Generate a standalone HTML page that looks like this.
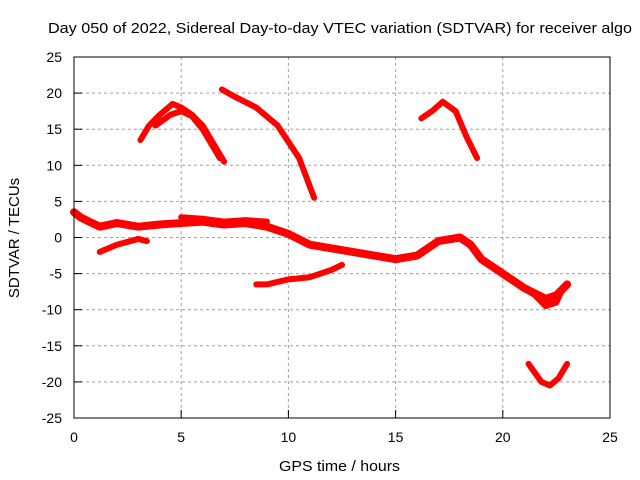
<!DOCTYPE html>
<html><head><meta charset="utf-8"><style>
body{margin:0;background:#fff;}
svg{display:block;font-family:"Liberation Sans",sans-serif;}
</style></head><body>
<svg id="chart" width="640" height="480">
<rect width="640" height="480" fill="#fff"/>
<text x="48" y="33" font-size="15" textLength="584" lengthAdjust="spacingAndGlyphs">Day 050 of 2022, Sidereal Day-to-day VTEC variation (SDTVAR) for receiver algo</text>
<text x="279" y="471" font-size="15" textLength="121" lengthAdjust="spacingAndGlyphs">GPS time / hours</text>
<text transform="translate(19,238) rotate(-90)" font-size="15" text-anchor="middle">SDTVAR / TECUs</text>
<g id="grid"></g>
<g id="series"></g>
<rect x="74" y="57" width="536" height="361" fill="none" stroke="#000" stroke-width="1"/>
<g id="ticks"></g>
</svg>
<script>
const xTicks=[0,5,10,15,20,25];
const yTicks=[25,20,15,10,5,0,-5,-10,-15,-20,-25];
const trackMain=[[0,3.5],[0.3,2.8],[0.7,2.2],[1.2,1.5],[2,2],[3,1.5],[4,1.8],[5,2],[6,2.2],[7,1.8],[8,2],[9,1.5],[10,0.5],[11,-1],[12,-1.5],[13,-2],[14,-2.5],[15,-3],[16,-2.5],[16.5,-1.5],[17,-0.5],[18,0],[18.5,-1],[19,-3],[20,-5],[21,-7],[22,-8.5],[22.5,-8],[23,-6.5]];
const trackUpper=[[5,2.8],[6,2.6],[7,2.2],[8,2.4],[9,2.2]];
const trackB=[[1.2,-2],[2,-1],[3,-0.2],[3.4,-0.5]];
const trackC1=[[3.1,13.5],[3.5,15.5],[4,17],[4.6,18.5],[5,18],[5.5,17],[6,15.5],[6.5,13],[7,10.5]];
const trackC2=[[3.8,15.5],[4.5,17],[5,17.5],[5.5,16.8],[6,15],[6.5,12.5],[6.8,11]];
const trackD=[[6.9,20.5],[7.5,19.5],[8.5,18],[9.5,15.5],[10.5,11],[11.2,5.5]];
const trackE=[[8.5,-6.5],[9,-6.5],[10,-5.8],[11,-5.5],[12,-4.5],[12.5,-3.8]];
const trackF=[[16.2,16.5],[16.7,17.5],[17.2,18.8],[17.8,17.5],[18.3,14],[18.8,11]];
const trackG=[[21.2,-17.5],[21.8,-20],[22.2,-20.5],[22.6,-19.5],[23,-17.5]];
const trackH=[[19.5,-4],[20.5,-6],[21,-7],[21.5,-8],[22,-9.5],[22.5,-9],[22.8,-7]];
const tracks=[trackMain,trackUpper,trackB,trackC1,trackC2,trackD,trackE,trackF,trackG,trackH];
const X=v=>74+(v-0)/25*536;
const Y=v=>418-(v+25)/50*361;
const NS='http://www.w3.org/2000/svg';
const grid=document.getElementById('grid'),ticks=document.getElementById('ticks'),series=document.getElementById('series');
function mk(t,a,p){const e=document.createElementNS(NS,t);for(const k in a)e.setAttribute(k,a[k]);p.appendChild(e);return e;}
xTicks.forEach(v=>{
 if(v>0&&v<25){const g=mk('line',{x1:X(v),x2:X(v),y1:57,y2:418,stroke:'#a0a0a0','stroke-dasharray':'3,3'},grid);
 
 }
 mk('line',{x1:X(v),x2:X(v),y1:418,y2:410,stroke:'#000'},ticks);
 const t=mk('text',{x:X(v),y:442,'font-size':14,'text-anchor':'middle'},ticks);t.textContent=v;
 
 
});
yTicks.forEach(v=>{
 if(v>-25&&v<25){const g=mk('line',{x1:74,x2:610,y1:Y(v),y2:Y(v),stroke:'#a0a0a0','stroke-dasharray':'3,3'},grid);
 
 }
 mk('line',{x1:74,x2:82,y1:Y(v),y2:Y(v),stroke:'#000'},ticks);
 const t=mk('text',{x:62,y:Y(v)+5,'font-size':14,'text-anchor':'end'},ticks);t.textContent=v;
 
 
});
tracks.forEach((tr,i)=>{
 const p=mk('polyline',{points:tr.map(d=>X(d[0])+','+Y(d[1])).join(' '),fill:'none',stroke:'#ff0000','stroke-width':i===0?8:6,'stroke-linejoin':'round','stroke-linecap':'round'},series);
 
 
});
</script>
</body></html>
